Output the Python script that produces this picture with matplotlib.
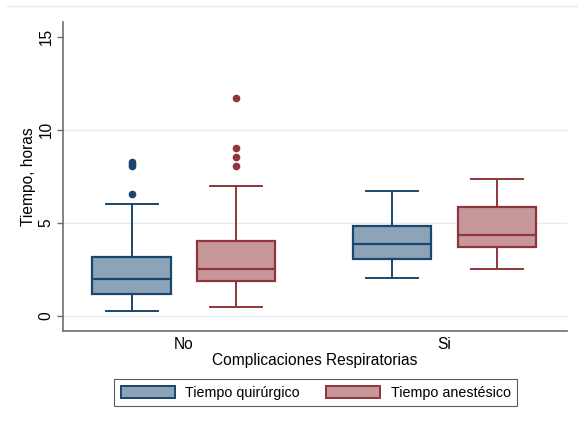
import matplotlib

matplotlib.use("Agg")
import matplotlib.pyplot as plt
from matplotlib.lines import Line2D
from matplotlib.patches import Patch

plt.rcParams["font.family"] = ["Liberation Sans", "DejaVu Sans"]

# Summary statistics (hours) per complication group
groups = ["No", "Si"]
series = ["Tiempo quirúrgico", "Tiempo anestésico"]

quir_whislo = [0.24, 2.00]
quir_q1 = [1.14, 3.02]
quir_med = [1.98, 3.84]
quir_q3 = [3.15, 4.83]
quir_whishi = [6.01, 6.69]
quir_fliers = [[6.51, 8.04, 8.15, 8.27], []]

anes_whislo = [0.47, 2.52]
anes_q1 = [1.85, 3.70]
anes_med = [2.50, 4.31]
anes_q3 = [4.00, 5.82]
anes_whishi = [6.98, 7.34]
anes_fliers = [[8.04, 8.50, 9.02, 11.71], []]

y_ticks = [0, 5, 10, 15]
grid_at = [0, 5, 10]

NAVY = "#1a476f"
NAVY_FILL = "#8da3b7"
MAROON = "#90353b"
MAROON_FILL = "#c6989b"
FS = 11.2
LEG_FS = 10.3


def make_stats(lo, q1, med, q3, hi, fliers):
    return [
        {"whislo": a, "q1": b, "med": c, "q3": d, "whishi": e, "fliers": f}
        for a, b, c, d, e, f in zip(lo, q1, med, q3, hi, fliers)
    ]


fig = plt.figure(figsize=(5.78, 4.23), dpi=100)
ax = fig.add_axes([0.109, 0.2175, 0.872, 0.7305])

centers = list(range(1, len(groups) + 1))
offset = 0.2

for stats, color, fill, shift in [
    (make_stats(quir_whislo, quir_q1, quir_med, quir_q3, quir_whishi, quir_fliers), NAVY, NAVY_FILL, -offset),
    (make_stats(anes_whislo, anes_q1, anes_med, anes_q3, anes_whishi, anes_fliers), MAROON, MAROON_FILL, offset),
]:
    ax.bxp(
        stats,
        positions=[c + shift for c in centers],
        widths=0.3,
        capwidths=0.2,
        patch_artist=True,
        manage_ticks=False,
        boxprops=dict(facecolor=fill, edgecolor=color, linewidth=1.6),
        medianprops=dict(color=color, linewidth=1.6),
        whiskerprops=dict(color=color, linewidth=1.4),
        capprops=dict(color=color, linewidth=1.4),
        flierprops=dict(marker="o", markerfacecolor=color, markeredgecolor=color,
                        markersize=4.5, linestyle="none"),
    )

ax.set_xlim(0.537, 2.47)
ax.set_ylim(-0.83, 15.78)
ax.set_yticks(y_ticks)
ax.set_yticklabels([str(t) for t in y_ticks], rotation=90, va="center", fontsize=FS)
ax.set_xticks(centers)
ax.set_xticklabels(groups, fontsize=FS)
ax.tick_params(axis="x", length=0, pad=4)
ax.tick_params(axis="y", length=4.3, width=1, color="#6e6e6e", pad=2.3)

for y in grid_at:
    ax.axhline(y, color="#e4ebf0", linewidth=1.0, zorder=0)

for side in ["top", "right"]:
    ax.spines[side].set_visible(False)
for side in ["left", "bottom"]:
    ax.spines[side].set_color("#6e6e6e")
    ax.spines[side].set_linewidth(1.2)

ax.set_ylabel("Tiempo, horas", fontsize=FS, labelpad=2)
ax.set_xlabel("Complicaciones Respiratorias", fontsize=FS, labelpad=1)

handles = [
    Patch(facecolor=NAVY_FILL, edgecolor=NAVY, linewidth=1.4),
    Patch(facecolor=MAROON_FILL, edgecolor=MAROON, linewidth=1.4),
]
leg = fig.legend(
    handles, series, loc="center", bbox_to_anchor=(0.546, 0.0714), ncol=2,
    fontsize=LEG_FS, frameon=True, fancybox=False, handlelength=3.8, handleheight=1.0,
    handletextpad=0.73, columnspacing=1.8, borderpad=0.45, borderaxespad=0,
)
leg.get_frame().set_edgecolor("#333333")
leg.get_frame().set_linewidth(0.8)

# faint outer frame line along the top of the graph region
fig.add_artist(Line2D([0.012, 1.0], [1 - 6 / 423, 1 - 6 / 423], color="#e4ebf0", linewidth=1.0))

fig.savefig("out.png", dpi=100)
